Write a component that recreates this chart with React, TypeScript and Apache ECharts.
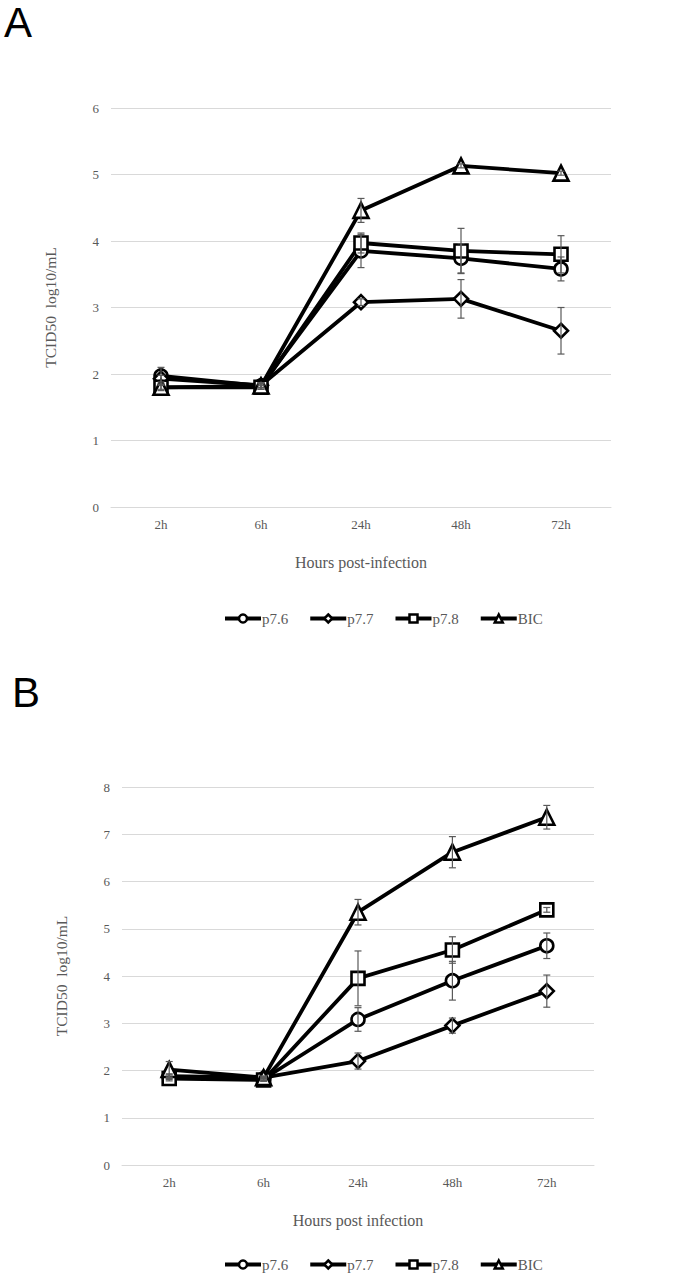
import { useEffect, useRef } from "react";
import * as echarts from "echarts";

const categories = ["2h", "6h", "24h", "48h", "72h"];
const seriesNames = ["p7.6", "p7.7", "p7.8", "BIC"];
const seriesSymbols = ["circle", "diamond", "rect", "triangle"];
const symbolSizes = [13, 14, 13, 15];

// Panel A values and error (±)
const p76A = [1.97, 1.82, 3.85, 3.74, 3.58];
const p77A = [1.93, 1.83, 3.08, 3.13, 2.65];
const p78A = [1.8, 1.8, 3.97, 3.85, 3.8];
const bicA = [1.8, 1.82, 4.46, 5.13, 5.02];
const p76AErr = [0.13, 0.03, 0.25, 0.22, 0.18];
const p77AErr = [0.05, 0.03, 0.05, 0.29, 0.35];
const p78AErr = [0.03, 0.03, 0.15, 0.34, 0.28];
const bicAErr = [0.05, 0.05, 0.18, 0.03, 0.03];

// Panel B values and error (±)
const p76B = [1.86, 1.82, 3.08, 3.9, 4.64];
const p77B = [1.88, 1.85, 2.2, 2.95, 3.68];
const p78B = [1.83, 1.8, 3.95, 4.55, 5.4];
const bicB = [2.02, 1.85, 5.35, 6.62, 7.36];
const p76BErr = [0.05, 0.03, 0.25, 0.41, 0.27];
const p77BErr = [0.05, 0.03, 0.17, 0.16, 0.34];
const p78BErr = [0.05, 0.03, 0.58, 0.28, 0.05];
const bicBErr = [0.17, 0.03, 0.27, 0.33, 0.25];

const yTicksA = [0, 1, 2, 3, 4, 5, 6];
const yTicksB = [0, 1, 2, 3, 4, 5, 6, 7, 8];

const xTitleA = "Hours post-infection";
const xTitleB = "Hours post infection";
const yTitle = "TCID50  log10/mL";

const SERIF = "'Liberation Serif', 'Times New Roman', serif";
const GRAY = "#595959";

export default function App() {
  const ref = useRef<HTMLDivElement>(null);
  useEffect(() => {
    if (!ref.current) return;
    const chart = echarts.init(ref.current, null, { renderer: "svg" });

    const panels = [
      { vals: [p76A, p77A, p78A, bicA], errs: [p76AErr, p77AErr, p78AErr, bicAErr], ticks: yTicksA, xTitle: xTitleA },
      { vals: [p76B, p77B, p78B, bicB], errs: [p76BErr, p77BErr, p78BErr, bicBErr], ticks: yTicksB, xTitle: xTitleB },
    ];

    const grids = [
      { left: 111, top: 108, width: 500, height: 399 },
      { left: 122, top: 787, width: 472, height: 378 },
    ];

    const xAxes = panels.map((p, i) => ({
      type: "category",
      gridIndex: i,
      data: categories,
      boundaryGap: true,
      axisLine: { show: true, lineStyle: { color: "#d9d9d9", width: 1 } },
      axisTick: { show: false },
      axisLabel: { color: GRAY, fontFamily: SERIF, fontSize: 13, margin: 11 },
      name: p.xTitle,
      nameLocation: "middle",
      nameGap: 47,
      nameTextStyle: { color: GRAY, fontFamily: SERIF, fontSize: 16 },
    }));

    const yAxes = panels.map((p, i) => ({
      type: "value",
      gridIndex: i,
      min: p.ticks[0],
      max: p.ticks[p.ticks.length - 1],
      interval: 1,
      axisLine: { show: false },
      axisTick: { show: false },
      splitLine: { lineStyle: { color: "#d9d9d9", width: 1 } },
      axisLabel: { color: GRAY, fontFamily: SERIF, fontSize: 13, margin: 12 },
      name: yTitle,
      nameLocation: "middle",
      nameGap: 53,
      nameRotate: 90,
      nameTextStyle: { color: GRAY, fontFamily: SERIF, fontSize: 15.5 },
    }));

    const series: any[] = [];
    panels.forEach((p, gi) => {
      p.vals.forEach((vals, si) => {
        series.push({
          type: "line",
          name: seriesNames[si],
          xAxisIndex: gi,
          yAxisIndex: gi,
          data: vals,
          symbol: seriesSymbols[si],
          symbolSize: symbolSizes[si],
          showAllSymbol: true,
          lineStyle: { color: "#000", width: 3.8 },
          itemStyle: { color: "#fff", borderColor: "#000", borderWidth: 2.6 },
          z: 3,
        });
      });
      p.vals.forEach((vals, si) => {
        const errs = p.errs[si];
        series.push({
          type: "custom",
          name: seriesNames[si] + " error",
          xAxisIndex: gi,
          yAxisIndex: gi,
          data: vals.map((v, k) => [k, v - errs[k], v + errs[k]]),
          encode: { x: 0, y: [1, 2] },
          z: 5,
          silent: true,
          renderItem: (_params: any, api: any) => {
            const x = api.value(0);
            const lo = api.coord([x, api.value(1)]);
            const hi = api.coord([x, api.value(2)]);
            const cap = 3.5;
            const st = { stroke: GRAY, lineWidth: 1.2 };
            return {
              type: "group",
              children: [
                { type: "line", shape: { x1: hi[0], y1: hi[1], x2: lo[0], y2: lo[1] }, style: st },
                { type: "line", shape: { x1: hi[0] - cap, y1: hi[1], x2: hi[0] + cap, y2: hi[1] }, style: st },
                { type: "line", shape: { x1: lo[0] - cap, y1: lo[1], x2: lo[0] + cap, y2: lo[1] }, style: st },
              ],
            };
          },
        });
      });
    });

    const legendBase = {
      data: seriesNames,
      orient: "horizontal",
      left: 218,
      itemWidth: 36,
      itemHeight: 10,
      itemGap: 20,
      textStyle: { color: GRAY, fontFamily: SERIF, fontSize: 15, padding: [0, 0, 0, -4] },
      selectedMode: false,
      itemStyle: { color: "#fff", borderColor: "#000", borderWidth: 2.5 },
      lineStyle: { color: "#000", width: 4 },
    };

    chart.setOption({
      animation: false,
      backgroundColor: "#fff",
      grid: grids,
      xAxis: xAxes,
      yAxis: yAxes,
      legend: [
        { ...legendBase, top: 606 },
        { ...legendBase, top: 1252 },
      ],
      graphic: [
        {
          type: "text",
          left: 4,
          top: 1,
          style: { text: "A", fontSize: 42, fontFamily: "'Liberation Sans', Arial, sans-serif", fill: "#000" },
        },
        {
          type: "text",
          left: 12,
          top: 671,
          style: { text: "B", fontSize: 42, fontFamily: "'Liberation Sans', Arial, sans-serif", fill: "#000" },
        },
      ],
      series,
    });

    return () => chart.dispose();
  }, []);

  return (
    <div
      ref={ref}
      style={{ position: "absolute", left: 0, top: 0, width: 679, height: 1280, background: "#fff" }}
    />
  );
}
